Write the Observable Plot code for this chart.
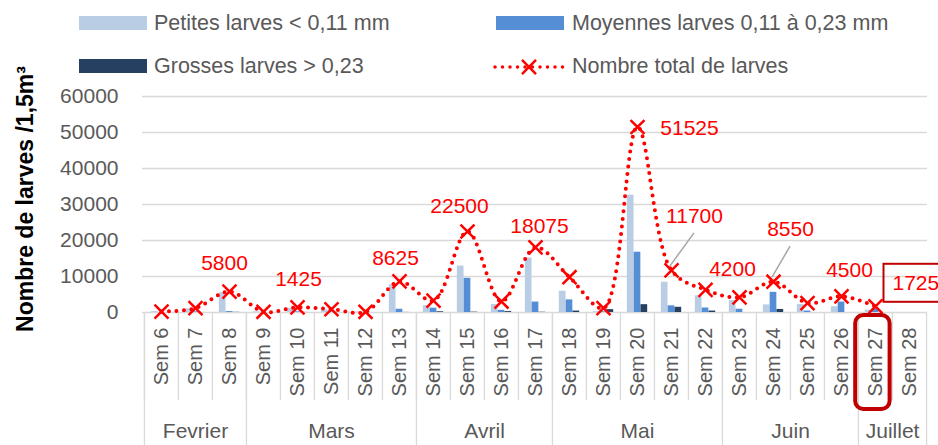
<!DOCTYPE html>
<html>
<head>
<meta charset="utf-8">
<script src="https://cdn.jsdelivr.net/npm/d3@7"></script>
<script src="https://cdn.jsdelivr.net/npm/@observablehq/plot@0.6"></script>
<style>
html, body { margin: 0; padding: 0; background: #fff; overflow: hidden; }
#wrap { position: relative; width: 938px; height: 445px; overflow: hidden; }
</style>
</head>
<body>
<div id="wrap"></div>
<script>
// ---------- DATA ----------
const weeks = ["Sem 6","Sem 7","Sem 8","Sem 9","Sem 10","Sem 11","Sem 12","Sem 13","Sem 14","Sem 15","Sem 16","Sem 17","Sem 18","Sem 19","Sem 20","Sem 21","Sem 22","Sem 23","Sem 24","Sem 25","Sem 26","Sem 27","Sem 28"];
const months = ["Fevrier","Mars","Avril","Mai","Juin","Juillet"];
const monthWeekCounts = [3, 5, 4, 5, 4, 2];
const petites  = [250, 1000, 5500, 150, 1200, 700, 150, 7700, 1900, 12900, 2200, 15100, 5900, 200, 32600, 8400, 4650, 3300, 2100, 2200, 1600, 650, null];
const moyennes = [0, 200, 250, 50, 200, 200, 50, 900, 1200, 9500, 600, 2900, 3500, 200, 16750, 1850, 1250, 900, 5600, 400, 2900, 1075, null];
const grosses  = [0, 0, 50, 0, 25, 0, 0, 25, 200, 100, 250, 75, 400, 800, 2175, 1450, 400, 0, 850, 0, 0, 0, null];
const totals   = [250, 1200, 5800, 200, 1425, 900, 200, 8625, 3300, 22500, 3050, 18075, 9800, 1200, 51525, 11700, 6300, 4200, 8550, 2600, 4500, 1725, null];
const labeledWeeks = ["Sem 8","Sem 10","Sem 13","Sem 15","Sem 17","Sem 20","Sem 21","Sem 23","Sem 24","Sem 26","Sem 27"];
const leaderWeeks = ["Sem 21","Sem 24"];
const boxedWeek = "Sem 27";
const yTicks = [0, 10000, 20000, 30000, 40000, 50000, 60000];
const seriesNames = ["Petites larves < 0,11 mm", "Moyennes larves 0,11 à 0,23 mm", "Grosses larves > 0,23", "Nombre total de larves"];
const yTitle = "Nombre de larves /1,5m³";

// ---------- STYLE ----------
const colors = ["#b9cde5", "#558ed5", "#254061", "#ff0000"];
const FONT = "'Liberation Sans', Arial, Helvetica, sans-serif";
const GRID = "#d9d9d9";
const TXT = "#595959";
// label offsets (px) relative to the point marker
const labelOffsets = {
  "Sem 8": [-5, -28], "Sem 10": [1, -28], "Sem 13": [-4, -23], "Sem 15": [-8, -25],
  "Sem 17": [4, -21], "Sem 20": [52, 1], "Sem 21": [23, -54], "Sem 23": [-7, -28],
  "Sem 24": [17, -52], "Sem 26": [8, -26], "Sem 27": [17, -23]
};

const W = 938, H = 445;
const mL = 142, mR = 11, mT = 96, mB = 133;
const frameH = H - mT - mB;
const bw = (W - mL - mR) / weeks.length;
const barW = bw * 0.2;
const g0 = (bw - 3 * barW) / 2;

const rows = weeks.map((w, i) => ({week: w, petites: petites[i], moyennes: moyennes[i], grosses: grosses[i], total: totals[i]}));
const labeled = rows.filter(r => labeledWeeks.includes(r.week));

// month layout
const monthStarts = [];
const monthOdd = [], monthEven = [];
{
  let s = 0;
  months.forEach((m, k) => {
    const n = monthWeekCounts[k];
    monthStarts.push(weeks[s]);
    if (n % 2) monthOdd.push({name: m, week: weeks[s + (n - 1) / 2]});
    else monthEven.push({name: m, week: weeks[s + n / 2 - 1]});
    s += n;
  });
}

const labelMarks = labeled.map(r => {
  const [dx, dy] = labelOffsets[r.week];
  return Plot.text([r], {
    x: "week", y: "total", text: d => String(d.total), dx, dy,
    fill: colors[3], fontSize: 21,
    textAnchor: r.week === boxedWeek ? "start" : "middle"
  });
});

const chart = Plot.plot({
  width: W, height: H,
  marginLeft: mL, marginRight: mR, marginTop: mT, marginBottom: mB,
  style: {fontFamily: FONT, fontSize: "21px", color: TXT, background: "white", overflow: "visible"},
  x: {domain: weeks, padding: 0, axis: null},
  y: {domain: [0, 60000], ticks: yTicks, tickFormat: d => String(d), tickSize: 0, tickPadding: 24, label: null},
  marks: [
    Plot.ruleY(yTicks, {stroke: GRID, strokeWidth: 1.3}),
    // week separators
    Plot.ruleX(weeks, {x: d => d, dx: -bw / 2, insetTop: frameH, insetBottom: -88, stroke: GRID, strokeWidth: 1.3}),
    // month separators
    Plot.ruleX(monthStarts, {x: d => d, dx: -bw / 2, insetTop: frameH, insetBottom: -mB, stroke: GRID, strokeWidth: 1.3}),
    Plot.ruleX([weeks[weeks.length - 1]], {x: d => d, dx: bw / 2, insetTop: frameH, insetBottom: -mB, stroke: GRID, strokeWidth: 1.3}),
    // bars
    Plot.barY(rows, {x: "week", y: "petites", fill: colors[0], insetLeft: g0, insetRight: bw - g0 - barW}),
    Plot.barY(rows, {x: "week", y: "moyennes", fill: colors[1], insetLeft: g0 + barW, insetRight: g0 + barW}),
    Plot.barY(rows, {x: "week", y: "grosses", fill: colors[2], insetLeft: g0 + 2 * barW, insetRight: g0}),
    // total line
    Plot.line(rows, {x: "week", y: "total", stroke: colors[3], strokeWidth: 4, strokeDasharray: "0 7.5", strokeLinecap: "round", curve: "catmull-rom"}),
    Plot.dot(rows, {x: "week", y: "total", symbol: "times", r: 6.4, stroke: colors[3], strokeWidth: 2.5}),
    ...labelMarks,
    // week labels
    Plot.text(weeks, {x: d => d, text: d => d, frameAnchor: "bottom", rotate: -90, textAnchor: "end", lineAnchor: "middle", dy: 15, fontSize: 20, fill: TXT}),
    // month labels
    Plot.text(monthOdd, {x: "week", text: "name", frameAnchor: "bottom", lineAnchor: "middle", dy: 119, fontSize: 21, fill: TXT}),
    Plot.text(monthEven, {x: "week", text: "name", frameAnchor: "bottom", lineAnchor: "middle", dx: bw / 2, dy: 119, fontSize: 21, fill: TXT}),
    // highlight Sem 27
    Plot.cell([boxedWeek], {x: d => d, fill: "none", stroke: "#c00000", strokeWidth: 4, rx: 8, insetTop: 219, insetBottom: -97, insetLeft: -2.8, insetRight: 2.4}),
    // y title
    Plot.text([yTitle], {text: d => d, frameAnchor: "left", textAnchor: "middle", lineAnchor: "middle", rotate: -90, dx: -117, dy: -5.5, fontSize: 23, fontWeight: "bold", fill: "#000"})
  ]
});

const wrap = document.getElementById("wrap");
wrap.appendChild(chart);

// leader lines and boxed label, positioned from the library's scales
const xs = chart.scale("x"), ys = chart.scale("y");
const cx = w => xs.apply(w) + xs.bandwidth / 2;
const cy = v => ys.apply(v);
const svg = d3.select(chart);
leaderWeeks.forEach(w => {
  const r = rows.find(d => d.week === w);
  const [dx, dy] = labelOffsets[w];
  svg.append("line")
    .attr("x1", cx(w) - 1).attr("y1", cy(r.total) - 4)
    .attr("x2", cx(w) + dx).attr("y2", cy(r.total) + dy + 17)
    .attr("stroke", "#a6a6a6").attr("stroke-width", 1.5);
});
const boxed = rows.find(d => d.week === boxedWeek);
const boxedText = svg.selectAll("text").filter(function() { return this.textContent === String(boxed.total); }).node();
if (boxedText) {
  const bb = boxedText.getBBox();
  const inv = chart.getScreenCTM().inverse();
  const sp = chart.createSVGPoint();
  sp.x = bb.x; sp.y = bb.y;
  const tl = sp.matrixTransform(boxedText.getScreenCTM()).matrixTransform(inv);
  svg.append("rect")
    .attr("x", tl.x - 9).attr("y", cy(boxed.total) + labelOffsets[boxedWeek][1] - 19)
    .attr("width", bb.width + 18).attr("height", 38)
    .attr("fill", "none").attr("stroke", "#c00000").attr("stroke-width", 2);
}

// ---------- LEGEND ----------
const leg = d3.select(wrap).append("svg")
  .attr("width", W).attr("height", 85)
  .style("position", "absolute").style("left", "0px").style("top", "0px")
  .style("font-family", FONT).style("font-size", "21.5px");
const legItems = [
  {name: seriesNames[0], color: colors[0], x: 79, y: 16, tx: 154, base: 30},
  {name: seriesNames[1], color: colors[1], x: 496, y: 16, tx: 572, base: 30},
  {name: seriesNames[2], color: colors[2], x: 79, y: 59, tx: 154, base: 72.5},
];
legItems.forEach(it => {
  leg.append("rect").attr("x", it.x).attr("y", it.y).attr("width", 68).attr("height", 14).attr("fill", it.color);
  leg.append("text").attr("x", it.tx).attr("y", it.base).attr("fill", TXT).text(it.name);
});
leg.append("line").attr("x1", 495).attr("x2", 563).attr("y1", 67).attr("y2", 67)
  .attr("stroke", colors[3]).attr("stroke-width", 3.5).attr("stroke-dasharray", "0 7.5").attr("stroke-linecap", "round");
leg.append("path").attr("d", d3.symbol(d3.symbolTimes, 130)()).attr("transform", "translate(529,67)")
  .attr("fill", "none").attr("stroke", colors[3]).attr("stroke-width", 2.5);
leg.append("text").attr("x", 572).attr("y", 72.5).attr("fill", TXT).text(seriesNames[3]);
</script>
</body>
</html>
